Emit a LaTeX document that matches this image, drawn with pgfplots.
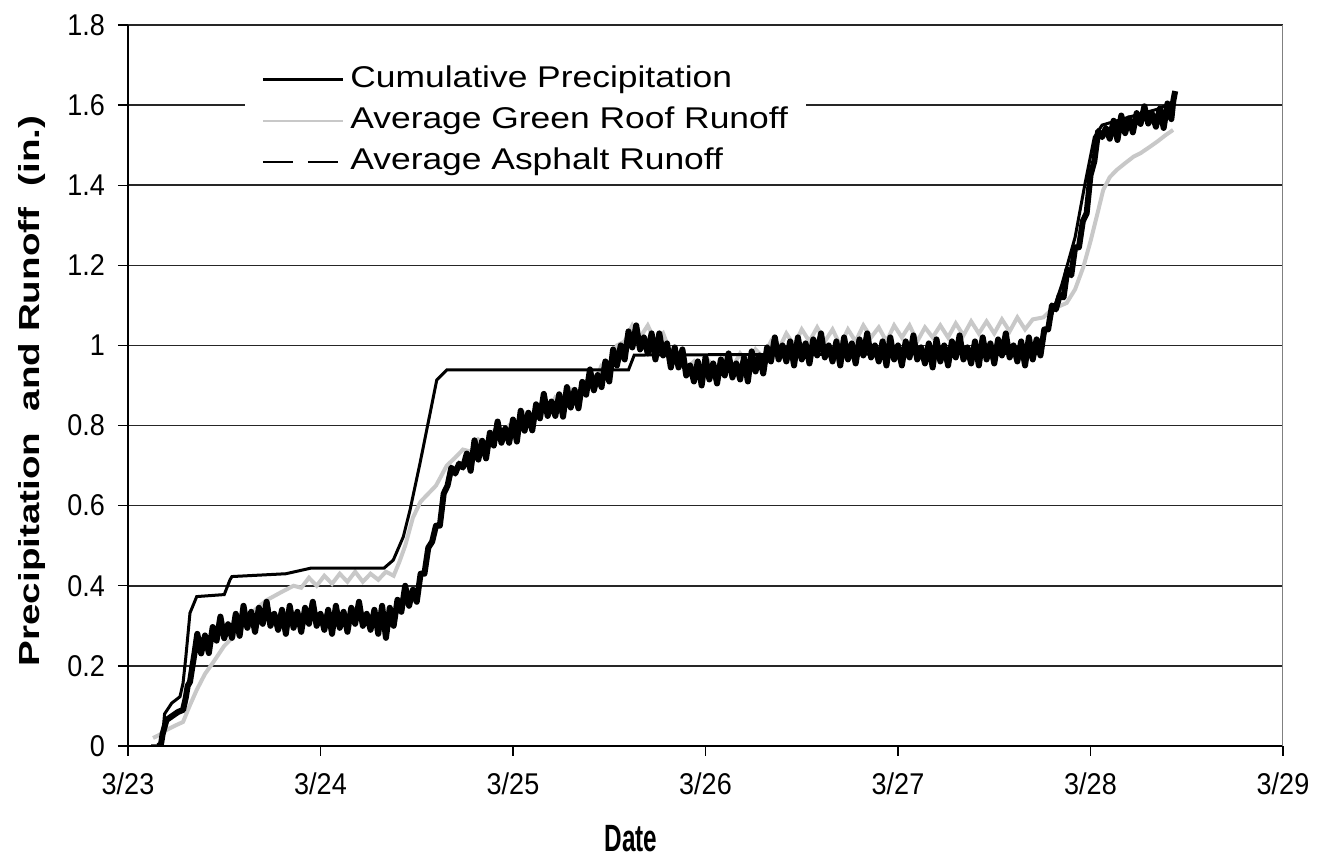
\documentclass[border=0pt]{standalone}
\usepackage{pgfplots}
\pgfplotsset{compat=1.18}
\usepackage{fontspec}
\setmainfont{Liberation Sans}
\newfontfamily\tickfont[FakeStretch=0.9]{Liberation Sans}
\newfontfamily\legfont[FakeStretch=1.18]{Liberation Sans}
\newfontfamily\ylabfont[FakeStretch=1.33]{Liberation Sans}
\newfontfamily\xlabfont[FakeStretch=0.64]{Liberation Sans}
\definecolor{roofgray}{RGB}{200,200,200}

% cumulative precipitation (in.)
\pgfplotstableread{
t y
0.12 0
0.175 0
0.19 0.08
0.227 0.107
0.27 0.123
0.286 0.157
0.30 0.22
0.322 0.332
0.357 0.373
0.50 0.378
0.53 0.415
0.54 0.423
0.82 0.43
0.95 0.444
1.33 0.444
1.378 0.464
1.43 0.522
1.465 0.589
1.517 0.706
1.569 0.830
1.604 0.914
1.656 0.939
2.60 0.939
2.63 0.976
4.72 0.98
4.78 1.05
4.85 1.15
4.92 1.27
4.97 1.40
5.02 1.52
5.06 1.55
5.20 1.57
5.35 1.59
5.44 1.61
}\precip

% average green roof runoff (in.)
\pgfplotstableread{
t y
0.13 0.02
0.16 0.027
0.20 0.04
0.25 0.052
0.286 0.06
0.32 0.10
0.357 0.14
0.40 0.18
0.44 0.207
0.50 0.25
0.546 0.272
0.60 0.31
0.66 0.34
0.72 0.364
0.80 0.385
0.86 0.40
0.90 0.395
0.94 0.42
0.98 0.40
1.02 0.425
1.06 0.405
1.10 0.43
1.14 0.41
1.18 0.435
1.22 0.41
1.26 0.43
1.30 0.415
1.34 0.435
1.38 0.425
1.41 0.46
1.44 0.50
1.48 0.57
1.52 0.61
1.56 0.63
1.60 0.65
1.656 0.70
1.70 0.72
1.74 0.74
1.78 0.735
1.82 0.765
1.86 0.75
1.90 0.785
1.94 0.77
1.98 0.80
2.02 0.79
2.06 0.83
2.10 0.81
2.14 0.85
2.18 0.835
2.22 0.87
2.26 0.855
2.30 0.89
2.34 0.875
2.38 0.91
2.42 0.905
2.46 0.95
2.50 0.95
2.54 1.0
2.58 1.01
2.62 1.05
2.66 1.02
2.70 1.05
2.74 1.01
2.78 1.03
2.82 0.98
2.86 0.97
2.90 0.94
2.94 0.96
2.98 0.93
3.02 0.96
3.06 0.94
3.10 0.97
3.14 0.945
3.18 0.98
3.22 0.955
3.26 0.99
3.30 0.97
3.34 1.01
3.38 0.99
3.42 1.03
3.46 1.0
3.50 1.04
3.54 1.01
3.58 1.045
3.62 1.01
3.66 1.04
3.70 1.0
3.74 1.04
3.78 1.01
3.82 1.05
3.86 1.02
3.90 1.045
3.94 1.01
3.98 1.05
4.02 1.02
4.06 1.05
4.10 1.01
4.14 1.045
4.18 1.02
4.22 1.05
4.26 1.02
4.30 1.055
4.34 1.025
4.38 1.06
4.42 1.03
4.46 1.06
4.50 1.03
4.54 1.065
4.58 1.035
4.62 1.07
4.66 1.04
4.70 1.065
4.755 1.07
4.80 1.09
4.876 1.106
4.92 1.14
4.963 1.196
5.00 1.26
5.032 1.321
5.066 1.388
5.10 1.42
5.136 1.438
5.18 1.455
5.223 1.471
5.26 1.48
5.309 1.496
5.35 1.51
5.39 1.525
5.429 1.538
}\roof

% average asphalt runoff (in.)
\pgfplotstableread{
t y
0.15 0
0.17 0
0.18 0.03
0.20 0.065
0.23 0.075
0.26 0.085
0.286 0.09
0.30 0.12
0.31 0.15
0.322 0.16
0.335 0.20
0.345 0.23
0.36 0.28
0.38 0.231
0.40 0.276
0.42 0.232
0.44 0.297
0.46 0.263
0.48 0.323
0.50 0.269
0.52 0.304
0.54 0.27
0.56 0.33
0.58 0.275
0.60 0.35
0.62 0.295
0.64 0.335
0.66 0.285
0.68 0.345
0.70 0.305
0.72 0.36
0.74 0.30
0.76 0.33
0.78 0.29
0.80 0.34
0.82 0.28
0.84 0.35
0.86 0.295
0.88 0.335
0.90 0.285
0.92 0.345
0.94 0.305
0.96 0.36
0.98 0.30
1.00 0.33
1.02 0.29
1.04 0.34
1.06 0.28
1.08 0.35
1.10 0.295
1.12 0.335
1.14 0.285
1.16 0.345
1.18 0.305
1.20 0.36
1.22 0.30
1.24 0.33
1.26 0.29
1.28 0.34
1.30 0.28
1.32 0.35
1.34 0.27
1.36 0.345
1.38 0.30
1.40 0.365
1.42 0.335
1.44 0.40
1.46 0.35
1.48 0.39
1.50 0.36
1.52 0.43
1.54 0.43
1.56 0.495
1.58 0.51
1.60 0.55
1.62 0.55
1.64 0.63
1.66 0.65
1.68 0.695
1.70 0.68
1.72 0.705
1.74 0.695
1.76 0.73
1.78 0.687
1.80 0.763
1.82 0.715
1.84 0.762
1.86 0.718
1.88 0.782
1.90 0.75
1.92 0.81
1.94 0.757
1.96 0.793
1.98 0.757
2.00 0.815
2.02 0.76
2.04 0.837
2.06 0.787
2.08 0.832
2.10 0.788
2.12 0.853
2.14 0.818
2.16 0.879
2.18 0.824
2.20 0.86
2.22 0.824
2.24 0.878
2.26 0.822
2.28 0.896
2.30 0.845
2.32 0.889
2.34 0.843
2.36 0.909
2.38 0.877
2.40 0.94
2.42 0.888
2.44 0.926
2.46 0.896
2.48 0.96
2.50 0.91
2.52 0.99
2.54 0.95
2.56 1.0
2.58 0.965
2.60 1.035
2.62 0.995
2.64 1.05
2.66 0.99
2.68 1.02
2.70 0.98
2.72 1.03
2.74 0.965
2.76 1.03
2.78 0.975
2.80 1.005
2.82 0.945
2.84 0.995
2.86 0.945
2.88 0.99
2.90 0.925
2.92 0.95
2.94 0.91
2.96 0.96
2.98 0.90
3.00 0.97
3.02 0.915
3.04 0.955
3.06 0.905
3.08 0.965
3.10 0.925
3.12 0.98
3.14 0.92
3.16 0.955
3.18 0.915
3.20 0.97
3.22 0.91
3.24 0.985
3.26 0.935
3.28 0.975
3.30 0.93
3.32 0.995
3.34 0.96
3.36 1.02
3.38 0.965
3.40 1.0
3.42 0.96
3.44 1.01
3.46 0.95
3.48 1.02
3.50 0.965
3.52 1.005
3.54 0.955
3.56 1.015
3.58 0.975
3.60 1.03
3.62 0.97
3.64 1.0
3.66 0.96
3.68 1.01
3.70 0.95
3.72 1.02
3.74 0.965
3.76 1.005
3.78 0.955
3.80 1.015
3.82 0.975
3.84 1.03
3.86 0.97
3.88 1.0
3.90 0.96
3.92 1.01
3.94 0.95
3.96 1.02
3.98 0.965
4.00 1.0
4.02 0.95
4.04 1.01
4.06 0.97
4.08 1.025
4.10 0.965
4.12 0.995
4.14 0.955
4.16 1.005
4.18 0.945
4.20 1.015
4.22 0.96
4.24 1.0
4.26 0.95
4.28 1.01
4.30 0.97
4.32 1.025
4.34 0.965
4.36 0.995
4.38 0.955
4.40 1.01
4.42 0.95
4.44 1.02
4.46 0.965
4.48 1.005
4.50 0.955
4.52 1.015
4.54 0.975
4.56 1.03
4.58 0.97
4.60 1.0
4.62 0.96
4.64 1.01
4.66 0.95
4.68 1.02
4.70 0.965
4.72 1.015
4.74 0.975
4.76 1.04
4.78 1.04
4.80 1.10
4.82 1.09
4.84 1.125
4.86 1.12
4.88 1.19
4.90 1.175
4.92 1.245
4.94 1.245
4.96 1.31
4.98 1.33
5.00 1.425
5.02 1.46
5.04 1.535
5.06 1.52
5.08 1.543
5.10 1.516
5.12 1.561
5.14 1.513
5.16 1.574
5.18 1.53
5.20 1.567
5.22 1.532
5.24 1.58
5.26 1.553
5.28 1.597
5.30 1.554
5.32 1.578
5.34 1.546
5.36 1.591
5.38 1.543
5.40 1.604
5.42 1.565
5.43 1.61
5.44 1.635
}\asphalt

\begin{document}
\begin{tikzpicture}
\begin{axis}[
    scale only axis,
    width=577.5pt, height=360.5pt,
    xmin=0, xmax=6, ymin=0, ymax=1.8,
    axis x line*=bottom, axis y line*=left,
    axis line style={black, line width=0.8pt},
    xtick={0,1,2,3,4,5,6},
    xticklabels={3/23,3/24,3/25,3/26,3/27,3/28,3/29},
    ytick={0,0.2,0.4,0.6,0.8,1,1.2,1.4,1.6,1.8},
    yticklabels={0,0.2,0.4,0.6,0.8,1,1.2,1.4,1.6,1.8},
    tick align=outside,
    major tick length=5pt,
    tick style={black, line width=0.7pt},
    ymajorgrids,
    major grid style={black!85, line width=0.75pt},
    xticklabel style={font=\tickfont\fontsize{15}{15}\selectfont, yshift=-5pt},
    yticklabel style={font=\tickfont\fontsize{15}{15}\selectfont, xshift=-3pt},
    xlabel={Date},
    xlabel style={font=\xlabfont\bfseries\fontsize{19}{19}\selectfont,
        at={(axis description cs:0.4355,-0.128)}, anchor=center},
    ylabel={Precipitation\ \ and Runoff\ \ (in.)},
    ylabel style={font=\ylabfont\bfseries\fontsize{14.5}{14.5}\selectfont,
        at={(axis description cs:-0.0831,0.4924)}, anchor=center},
    legend style={at={(axis description cs:0.1013,0.955)}, anchor=north west,
        draw=none, fill=white, inner xsep=8pt, inner ysep=3pt,
        font=\legfont\fontsize{15}{15}\selectfont,
        row sep=4.5pt, column sep=2pt,
        nodes={inner sep=1pt, text height=11pt, text depth=3pt}},
    legend cell align=left,
    legend image code/.code={\draw[#1] (0pt,0pt) -- (40pt,0pt);},
]
\addlegendimage{black, line width=1.5pt}
\addlegendentry{Cumulative Precipitation}
\addlegendimage{roofgray, line width=1pt}
\addlegendentry{Average Green Roof Runoff}
\addlegendimage{black, line width=1pt, dash pattern=on 15pt off 7.5pt}
\addlegendentry{Average Asphalt Runoff}

\addplot[roofgray, line width=2pt, forget plot] table[x=t, y=y] {\roof};
\addplot[black, line width=1.5pt, forget plot] table[x=t, y=y] {\precip};
\addplot[black, line width=3pt, line join=round, forget plot] table[x=t, y=y] {\asphalt};

\draw[gray, line width=0.6pt] (rel axis cs:1,0) -- (rel axis cs:1,1);
\coordinate (O) at (rel axis cs:0,0);
\end{axis}
\pgfresetboundingbox
\path[use as bounding box] ([shift={(-64pt,-57pt)}]O) rectangle ++(662pt,430pt);
\end{tikzpicture}
\end{document}
